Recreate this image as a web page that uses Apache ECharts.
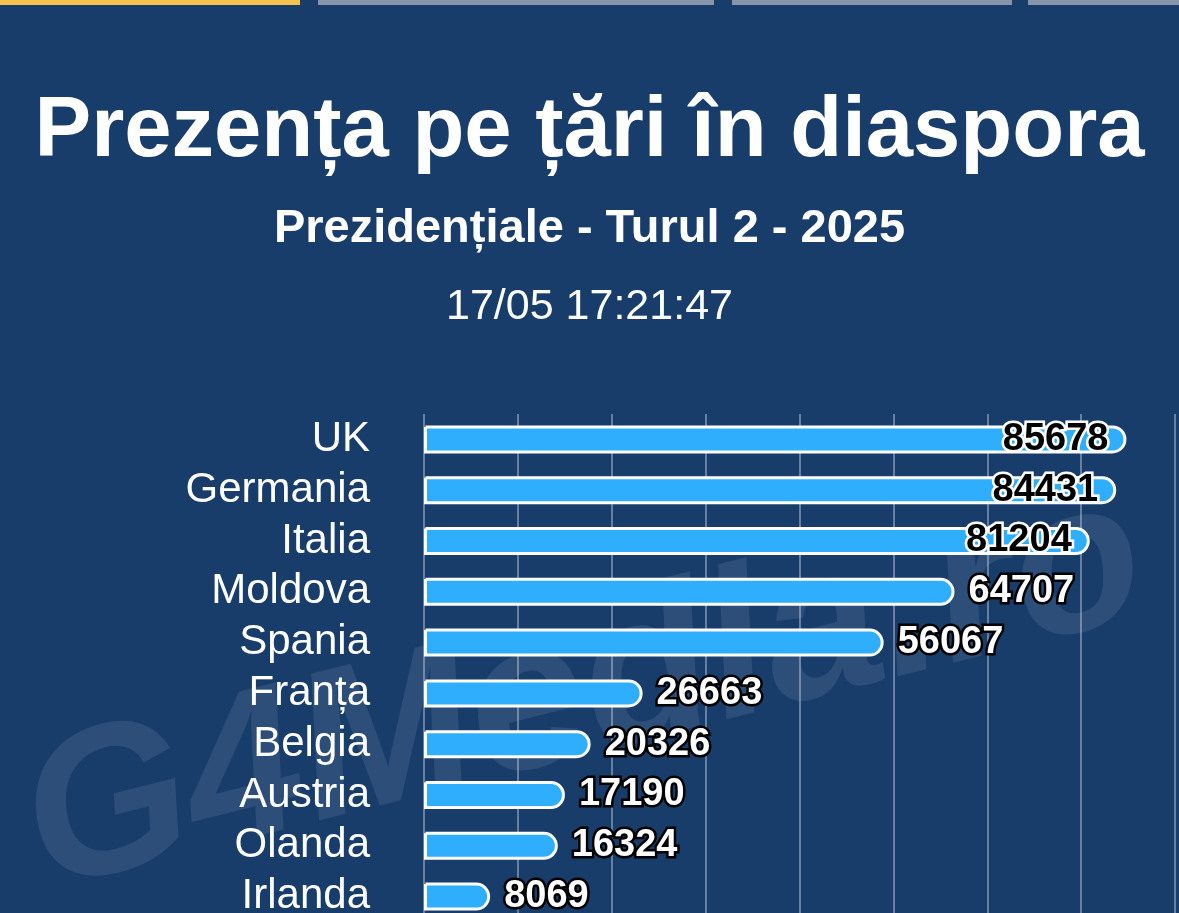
<!DOCTYPE html>
<html>
<head>
<meta charset="utf-8">
<script src="https://cdn.jsdelivr.net/npm/echarts@6/dist/echarts.min.js"></script>
<style>
  html, body { margin: 0; padding: 0; background: #183d6b; overflow: hidden; }
  #chart { width: 1179px; height: 922px; }
</style>
</head>
<body>
<div id="chart"></div>
<script>
  var countries = ['UK', 'Germania', 'Italia', 'Moldova', 'Spania', 'Franța', 'Belgia', 'Austria', 'Olanda', 'Irlanda'];
  var votes = [85678, 84431, 81204, 64707, 56067, 26663, 20326, 17190, 16324, 8069];
  // labels of the longest bars sit inside the bar end
  var insideCount = 3;

  var chart = echarts.init(document.getElementById('chart'));

  var barData = votes.map(function (v, i) {
    if (i < insideCount) {
      return {
        value: v,
        label: {
          position: 'insideRight',
          distance: 18,
          color: '#000',
          textBorderColor: '#fff'
        }
      };
    }
    return v;
  });

  chart.setOption({
    backgroundColor: '#183d6b',
    title: [{
      text: 'Prezența pe țări în diaspora',
      left: 'center',
      top: 85,
      textStyle: { color: '#fff', fontSize: 85, fontWeight: 'bold', fontFamily: 'Liberation Sans' }
    }, {
      text: 'Prezidențiale - Turul 2 - 2025',
      left: 'center',
      top: 201,
      textStyle: { color: '#fff', fontSize: 47, fontWeight: 'bold', fontFamily: 'Liberation Sans' }
    }, {
      text: '17/05 17:21:47',
      left: 'center',
      top: 281,
      textStyle: { color: '#fff', fontSize: 43, fontWeight: 'normal', fontFamily: 'Liberation Sans' }
    }],
    graphic: [
      { type: 'rect', shape: { x: 0, y: 0, width: 300, height: 5 }, style: { fill: '#f2c14e' } },
      { type: 'rect', shape: { x: 318, y: 0, width: 396, height: 5 }, style: { fill: '#8796ad' } },
      { type: 'rect', shape: { x: 732, y: 0, width: 280, height: 5 }, style: { fill: '#8796ad' } },
      { type: 'rect', shape: { x: 1028, y: 0, width: 151, height: 5 }, style: { fill: '#8796ad' } },
      {
        type: 'text',
        x: 55, y: 935,
        rotation: Math.PI * 14 / 180,
        z: -1,
        style: {
          text: 'G4Media.ro',
          fill: 'rgba(255,255,255,0.09)',
          font: 'italic bold 210px "Liberation Sans"',
          textVerticalAlign: 'bottom'
        }
      }
    ],
    grid: { left: 424, right: 4, top: 414, bottom: 0 },
    xAxis: {
      type: 'value',
      min: 0,
      max: 91600,
      interval: 11450,
      axisLabel: { show: false },
      axisLine: { show: false },
      axisTick: { show: false },
      splitLine: { lineStyle: { color: 'rgba(200,210,225,0.45)', width: 2 } }
    },
    yAxis: {
      type: 'category',
      inverse: true,
      data: countries,
      axisLine: { show: false },
      axisTick: { show: false },
      axisLabel: { interval: 0, color: '#fff', fontSize: 42, fontFamily: 'Liberation Sans', margin: 54 }
    },
    series: [{
      type: 'bar',
      data: barData,
      barWidth: 28,
      itemStyle: {
        color: '#2eaefc',
        borderColor: '#fff',
        borderWidth: 3,
        borderRadius: [0, 14, 14, 0]
      },
      label: {
        show: true,
        position: 'right',
        distance: 14,
        color: '#fff',
        fontSize: 38,
        fontWeight: 'bold',
        fontFamily: 'Liberation Sans',
        textBorderColor: '#000',
        textBorderWidth: 5
      }
    }]
  });
</script>
</body>
</html>
